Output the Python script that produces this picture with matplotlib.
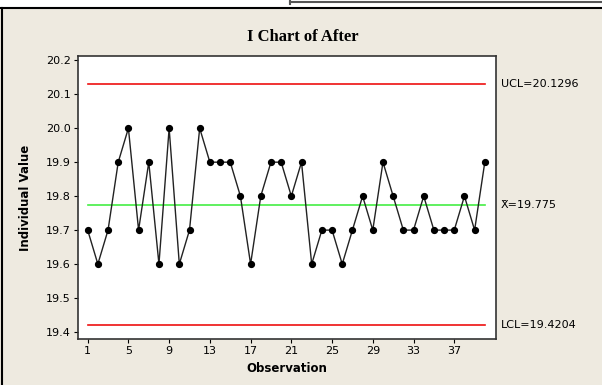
import matplotlib
matplotlib.use("Agg")
import matplotlib.pyplot as plt
from matplotlib.patches import Rectangle
from matplotlib.lines import Line2D

# individual observations (After)
obs = list(range(1, 41))
after = [19.7, 19.6, 19.7, 19.9, 20.0, 19.7, 19.9, 19.6, 20.0, 19.6,
         19.7, 20.0, 19.9, 19.9, 19.9, 19.8, 19.6, 19.8, 19.9, 19.9,
         19.8, 19.9, 19.6, 19.7, 19.7, 19.6, 19.7, 19.8, 19.7, 19.9,
         19.8, 19.7, 19.7, 19.8, 19.7, 19.7, 19.7, 19.8, 19.7, 19.9]
ucl = 20.1296
center = 19.775
lcl = 19.4204
xticks = list(range(1, 38, 4))
yticks = [19.4, 19.5, 19.6, 19.7, 19.8, 19.9, 20.0, 20.1, 20.2]

bg = "#EEEAE0"
W, H = 602, 385

fig = plt.figure(figsize=(W / 100, H / 100), dpi=100)
fig.patch.set_facecolor(bg)

# window frame above the minitab panel
fig.patches.append(Rectangle((0, 1 - 8 / H), 1, 8 / H, transform=fig.transFigure,
                             facecolor="white", edgecolor="none", zorder=-5))
fig.lines.append(Line2D([0, 1], [1 - 8 / H, 1 - 8 / H], transform=fig.transFigure,
                        color="black", lw=1.5))
fig.lines.append(Line2D([1.5 / W, 1.5 / W], [0, 1 - 8 / H], transform=fig.transFigure,
                        color="black", lw=1.5))
fig.lines.append(Line2D([290 / W, 1], [1 - 2 / H, 1 - 2 / H], transform=fig.transFigure,
                        color="#555555", lw=1.5))
fig.lines.append(Line2D([290 / W, 290 / W], [1 - 4 / H, 1], transform=fig.transFigure,
                        color="#555555", lw=1.5))

left, right, top, bottom = 78, 496, 56, 339
ax = fig.add_axes([left / W, 1 - bottom / H, (right - left) / W, (bottom - top) / H])
ax.set_facecolor("white")

ax.plot([obs[0], obs[-1]], [ucl, ucl], color="#EE1111", lw=1.2)
ax.plot([obs[0], obs[-1]], [lcl, lcl], color="#EE1111", lw=1.2)
ax.plot([obs[0], obs[-1]], [center, center], color="#44EE44", lw=1.2)
ax.plot(obs, after, color="#222222", lw=1.0, marker="o", markersize=4.2,
        markerfacecolor="black", markeredgecolor="black")

ax.set_xlim(0.05, 41.1)
ax.set_ylim(19.3794, 20.2126)
ax.set_xticks(xticks)
ax.set_yticks(yticks)
ax.set_yticklabels([f"{v:.1f}" for v in yticks])
ax.tick_params(direction="out", length=3, width=0.8, labelsize=8, colors="black", pad=2)
for s in ax.spines.values():
    s.set_color("#333333")
    s.set_linewidth(1.2)

ax.set_xlabel("Observation", fontsize=8.5, fontweight="bold", labelpad=4)
ax.set_ylabel("Individual Value", fontsize=8.5, fontweight="bold", labelpad=10)

fig.text(303 / W, 1 - 37 / H, "I Chart of After", ha="center", va="center",
         fontsize=12, fontweight="bold", family="Liberation Serif")

for val, lab in [(ucl, "UCL=20.1296"), (center, "X\u0304=19.775"), (lcl, "LCL=19.4204")]:
    ax.text(1.012, val, lab, transform=ax.get_yaxis_transform(), ha="left", va="center",
            fontsize=8)

fig.savefig("out.png", dpi=100, facecolor=fig.get_facecolor())
